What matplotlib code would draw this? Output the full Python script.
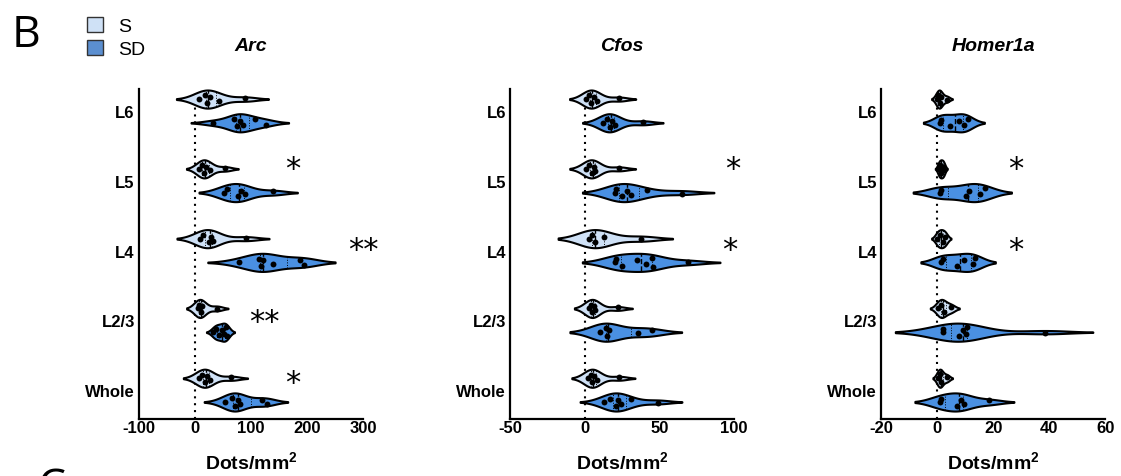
import numpy as np
import matplotlib
matplotlib.use("Agg")
import matplotlib.pyplot as plt
from matplotlib import mlab
from matplotlib.patches import Patch

plt.rcParams['font.family'] = ['Liberation Sans', 'DejaVu Sans']
plt.rcParams['mathtext.fontset'] = 'custom'
plt.rcParams['mathtext.rm'] = 'Liberation Sans:bold'
plt.rcParams['mathtext.bf'] = 'Liberation Sans:bold'

# layers, top to bottom
layers = ["L6", "L5", "L4", "L2/3", "Whole"]
genes = ["Arc", "Cfos", "Homer1a"]
groups = ["S", "SD"]

# dots/mm2, one list per layer
arc_s = [[8, 18, 22, 26, 42, 90], [8, 12, 16, 20, 27, 54], [9, 15, 25, 28, 32, 91],
         [5, 8, 10, 12, 39], [8, 12, 18, 21, 27, 65]]
arc_sd = [[33, 70, 75, 80, 85, 107, 127], [51, 57, 76, 82, 89, 139],
          [79, 115, 117, 122, 140, 188, 194], [33, 38, 42, 48, 52, 55, 58],
          [54, 66, 71, 77, 80, 119, 128]]
cfos_s = [[1, 3, 4, 6, 8, 23], [1, 3, 5, 6, 7, 23], [3, 5, 7, 13, 38],
          [3, 4, 5, 6, 7, 22], [2, 4, 5, 6, 8, 23]]
cfos_sd = [[12, 15, 17, 18, 20, 39], [20, 21, 25, 28, 31, 42, 65],
           [20, 21, 25, 35, 41, 45, 46, 69], [10, 14, 15, 16, 36, 45],
           [13, 17, 21, 22, 24, 31, 49]]
homer_s = [[0, 0.5, 1, 1.5, 3.5], [0.5, 1, 1.5, 2, 2.5], [0, 1, 2, 3],
           [0.5, 1.5, 2.5, 5], [0.5, 1, 1.5, 3.5]]
homer_sd = [[1, 1.5, 4.5, 8, 9.5, 11], [1, 1.5, 10.5, 11.5, 15.5, 17],
            [1.5, 2, 7, 9.5, 13, 13.5], [2, 2.2, 8, 9.3, 10.4, 10.7, 38.7],
            [1, 1.5, 7, 8.5, 9.5, 18.5]]

# significance marks per layer
arc_sig = ["", "*", "**", "**", "*"]
cfos_sig = ["", "*", "*", "", ""]
homer_sig = ["", "*", "*", "", ""]

xticks_arc = [-100, 0, 100, 200, 300]
xticks_cfos = [-50, 0, 50, 100]
xticks_homer = [-20, 0, 20, 40, 60]

data = {"Arc": (arc_s, arc_sd, arc_sig, xticks_arc),
        "Cfos": (cfos_s, cfos_sd, cfos_sig, xticks_cfos),
        "Homer1a": (homer_s, homer_sd, homer_sig, xticks_homer)}

# where the stars go (x in data units, y as offset from layer centre)
star_x = {"Arc": [0, 175, 300, 123, 175], "Cfos": [0, 99, 97, 0, 0],
          "Homer1a": [0, 28, 28, 0, 0]}
star_dy = [0, 0.18, 0.014, -0.014, 0.114]

c_s = '#cfe1f6'
c_sd = '#4a90e2'
W = 0.26      # violin thickness
off = 0.17    # S above / SD below the layer centre
jit = [0.0, 0.55, -0.55, 0.3, -0.3, 0.75, -0.75, 0.15]


def kde_stats(vals, cut=2.0, n=200):
    vals = np.asarray(vals, float)
    kde = mlab.GaussianKDE(vals, 'scott')
    bw = kde.factor * vals.std(ddof=1)
    coords = np.linspace(vals.min() - cut * bw, vals.max() + cut * bw, n)
    dens = kde.evaluate(coords)
    q1, med, q3 = np.percentile(vals, [25, 50, 75])
    st = dict(coords=coords, vals=dens, mean=vals.mean(), median=med,
              min=coords[0], max=coords[-1], quantiles=[])
    return st, kde, dens.max(), (q1, med, q3)


fig = plt.figure(figsize=(11.21, 4.77), dpi=100)
lefts = [0.124, 0.455, 0.786]

for gene, left in zip(genes, lefts):
    s_vals, sd_vals, sig, xt = data[gene]
    ax = fig.add_axes([left, 0.1195, 0.1998, 0.6918])
    ypos = np.arange(len(layers))[::-1].astype(float)

    for vals_list, dy, col in [(s_vals, off, c_s), (sd_vals, -off, c_sd)]:
        for i, vals in enumerate(vals_list):
            pos = ypos[i] + dy
            st, kde, dmax, (q1, med, q3) = kde_stats(vals)
            parts = ax.violin([st], positions=[pos], orientation='horizontal',
                              widths=W, showextrema=False)
            for b in parts['bodies']:
                b.set_facecolor(col)
                b.set_edgecolor('black')
                b.set_linewidth(1.5)
                b.set_alpha(1)
                b.set_zorder(2)
            # median and quartiles
            for q, ls, lw in [(med, '--', 1.0), (q1, ':', 0.7), (q3, ':', 0.7)]:
                h = 0.5 * W * kde.evaluate(np.array([q]))[0] / dmax
                ax.plot([q, q], [pos - h, pos + h], color='k', ls=ls, lw=lw, zorder=3)
            sv = np.sort(np.asarray(vals, float))
            hh = 0.5 * W * kde.evaluate(sv) / dmax
            yy = pos + np.array([jit[k % len(jit)] for k in range(len(sv))]) * hh * 0.75
            ax.scatter(sv, yy, s=18, color='black', zorder=4, linewidths=0)

    for i, mark in enumerate(sig):
        if mark:
            ax.text(star_x[gene][i], ypos[i] + star_dy[i], mark, ha='center', va='center',
                    fontsize=22, family='DejaVu Sans', clip_on=False)

    ax.axvline(0, color='black', ls=(0, (1, 2.3)), lw=1.5, zorder=1)
    ax.set_xlim(xt[0], xt[-1])
    ax.set_ylim(-0.414, 4.314)
    ax.set_xticks(xt)
    ax.set_xticklabels([str(t) for t in xt], fontweight='bold', fontsize=12)
    ax.set_yticks(ypos)
    ax.set_yticklabels(layers, fontweight='bold', fontsize=12)
    ax.tick_params(axis='both', length=0)
    ax.tick_params(axis='x', pad=1)
    ax.tick_params(axis='y', pad=3)
    for sp in ['top', 'right']:
        ax.spines[sp].set_visible(False)
    for sp in ['left', 'bottom']:
        ax.spines[sp].set_linewidth(1.6)
    ax.set_xlabel(r'$\mathbf{Dots/mm^2}$', fontsize=14, labelpad=11)
    ax.set_title(gene, fontstyle='italic', fontweight='bold', fontsize=14, pad=28)

# legend + panel letters
handles = [Patch(facecolor=c_s, edgecolor='#333333', label=groups[0]),
           Patch(facecolor='#5b8fd0', edgecolor='#333333', label=groups[1])]
fig.legend(handles=handles, loc='upper left', bbox_to_anchor=(0.0776, 0.962),
           frameon=False, fontsize=14, handlelength=0.8, handleheight=0.8,
           labelspacing=0.25, handletextpad=0.8, borderpad=0, borderaxespad=0)
fig.text(0.0107, 0.9015, 'B', fontsize=32, family='Open Sans', ha='left', va='baseline')
fig.text(0.033, -0.048, 'C', fontsize=32, family='Open Sans', ha='left', va='baseline')

plt.savefig('out.png', dpi=100)
